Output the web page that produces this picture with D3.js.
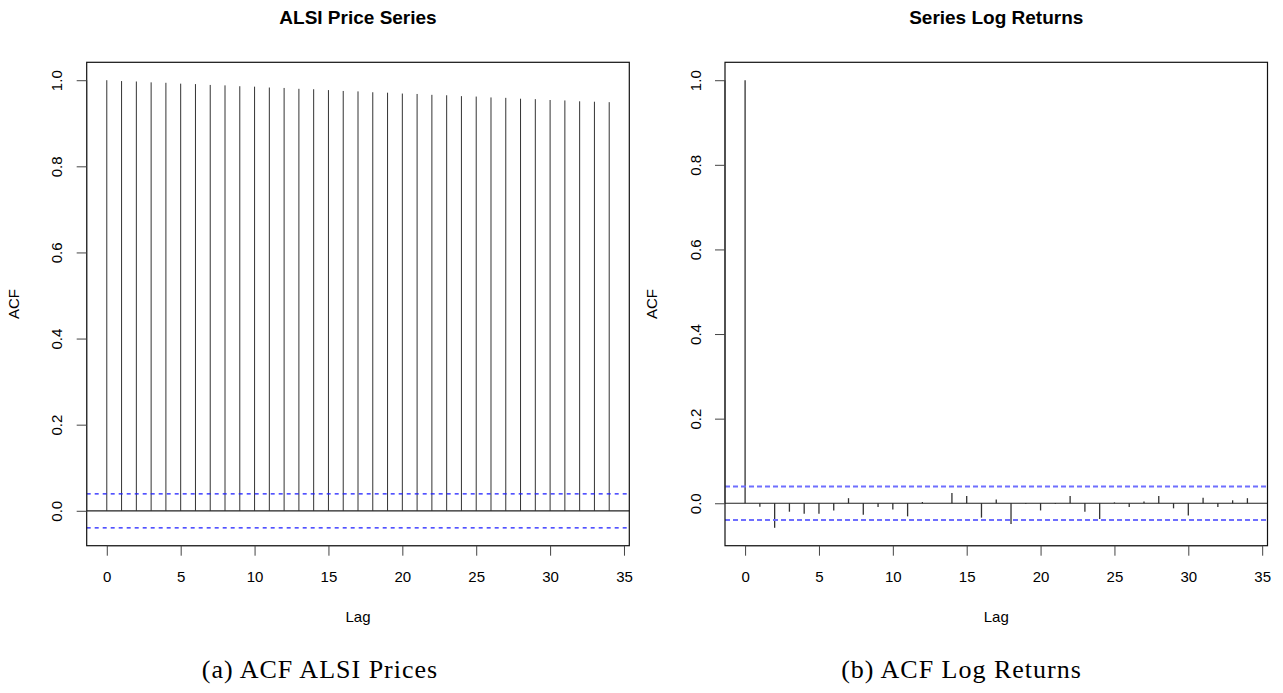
<!DOCTYPE html>
<html>
<head>
<meta charset="utf-8">
<script src="https://cdn.jsdelivr.net/npm/d3@7"></script>
<style>
    body { margin: 0; background: #fff; }
    svg text { font-family: "Liberation Sans", Arial, sans-serif; fill: #000; }
    .caption { font-family: "Liberation Serif", "Times New Roman", serif; }
</style>
</head>
<body>
<svg id="chart" width="1283" height="693"></svg>
<script>
// lags shown on both plots
let lags = d3.range(0, 35);

// ACF of the ALSI price levels, lag 0..34
let priceAcf = [1.000, 0.998, 0.997, 0.995, 0.994, 0.992, 0.991, 0.989, 0.988, 0.986,
    0.985, 0.983, 0.982, 0.980, 0.979, 0.977, 0.975, 0.974, 0.972, 0.971,
    0.969, 0.968, 0.966, 0.965, 0.963, 0.962, 0.960, 0.959, 0.957, 0.956,
    0.954, 0.953, 0.951, 0.950, 0.949];

// ACF of the log returns, lag 0..34
let returnAcf = [1.000, -0.008, -0.058, -0.020, -0.025, -0.025, -0.017, 0.012, -0.027, -0.009,
    -0.015, -0.031, 0.003, 0.000, 0.024, 0.017, -0.034, 0.009, -0.049, -0.002,
    -0.017, -0.002, 0.017, -0.020, -0.037, 0.002, -0.009, 0.004, 0.017, -0.012,
    -0.029, 0.013, -0.009, 0.007, 0.012];

// 95% white-noise band
let priceCi = 0.0395;
let returnCi = 0.0395;

let xTicks = [0, 5, 10, 15, 20, 25, 30, 35];
let yTicks = [0.0, 0.2, 0.4, 0.6, 0.8, 1.0];

let titles = ['ALSI Price Series', 'Series Log Returns'];
let captions = ['(a) ACF ALSI Prices', '(b) ACF Log Returns'];

let svg = d3.select('#chart');

// R style 4% padding on a range
let padRange = function(lo, hi) {
    let d = (hi - lo) * 0.04;
    return [lo - d, hi + d];
};

/**
 * Draws one acf panel in the style of R's plot.acf
 */
let drawAcf = function(params) {
    let p = Object.assign({
        left: 87, right: 629, top: 62.3, bottom: 545.7,
        ciColor: 'blue', ciWidth: 1, ciDash: '4,4', barColor: '#333', barWidth: 1
    }, params);

    let g = svg.append('g');
    let ylim = d3.extent(p.values.concat([-p.ci, p.ci]));

    let x = d3.scaleLinear()
        .domain(padRange(0, d3.max(p.lags)))
        .range([p.left, p.right]);
    let y = d3.scaleLinear()
        .domain(padRange(ylim[0], ylim[1]))
        .range([p.bottom, p.top]);

    // acf spikes
    g.append('g').selectAll('line')
        .data(p.values)
        .enter().append('line')
            .attr('x1', (d, i) => x(p.lags[i]))
            .attr('x2', (d, i) => x(p.lags[i]))
            .attr('y1', y(0))
            .attr('y2', d => y(d))
            .attr('stroke', p.barColor)
            .attr('stroke-width', p.barWidth);

    // zero line across the plot region
    g.append('line')
        .attr('x1', p.left).attr('x2', p.right)
        .attr('y1', y(0)).attr('y2', y(0))
        .attr('stroke', '#222').attr('stroke-width', 1.2);

    // confidence band
    g.append('g').selectAll('line')
        .data([p.ci, -p.ci])
        .enter().append('line')
            .attr('x1', p.left).attr('x2', p.right)
            .attr('y1', d => y(d)).attr('y2', d => y(d))
            .attr('stroke', p.ciColor)
            .attr('stroke-width', p.ciWidth)
            .attr('stroke-dasharray', p.ciDash);

    // box
    g.append('rect')
        .attr('x', p.left).attr('y', p.top)
        .attr('width', p.right - p.left).attr('height', p.bottom - p.top)
        .attr('fill', 'none').attr('stroke', '#111').attr('stroke-width', 1.2);

    // x axis, R puts it below the box with the spine only between the end ticks
    let xAxis = g.append('g')
        .attr('transform', 'translate(0,' + p.bottom + ')')
        .call(d3.axisBottom(x).tickValues(xTicks).tickSize(10).tickPadding(16).tickFormat(d3.format('d')));
    xAxis.select('.domain')
        .attr('d', 'M' + x(xTicks[0]) + ',0H' + x(xTicks[xTicks.length - 1]))
        .attr('stroke', '#333');
    xAxis.selectAll('.tick line').attr('stroke', '#444');
    xAxis.selectAll('text').style('font-size', '15px');

    let yAxis = g.append('g')
        .attr('transform', 'translate(' + p.left + ',0)')
        .call(d3.axisLeft(y).tickValues(yTicks).tickSize(10).tickFormat(d3.format('.1f')));
    yAxis.select('.domain')
        .attr('d', 'M0,' + y(yTicks[0]) + 'V' + y(yTicks[yTicks.length - 1]))
        .attr('stroke', '#333');
    yAxis.selectAll('.tick line').attr('stroke', '#444');
    yAxis.selectAll('text')
        .style('font-size', '15px')
        .attr('x', null)
        .attr('text-anchor', 'middle')
        .attr('transform', 'translate(-29.5,0) rotate(-90)')
        .attr('dy', '0.35em');

    let mid = (p.left + p.right) / 2;
    g.append('text')
        .attr('x', mid).attr('y', 24)
        .attr('text-anchor', 'middle')
        .style('font-size', '19px').style('font-weight', 'bold')
        .text(p.title);
    g.append('text')
        .attr('x', mid).attr('y', 622)
        .attr('text-anchor', 'middle')
        .style('font-size', '15px')
        .text('Lag');
    g.append('text')
        .attr('transform', 'translate(' + (p.left - 68) + ',' + ((p.top + p.bottom) / 2) + ') rotate(-90)')
        .attr('text-anchor', 'middle')
        .style('font-size', '15px')
        .text('ACF');
    g.append('text')
        .attr('class', 'caption')
        .attr('x', p.captionX).attr('y', 678)
        .attr('text-anchor', 'middle')
        .style('font-size', '26px')
        .style('letter-spacing', '1px')
        .text(p.caption);
};

drawAcf({
    lags: lags, values: priceAcf, ci: priceCi,
    left: 86.7, right: 629.3,
    title: titles[0], caption: captions[0], captionX: 320,
    ciColor: '#1a1aff', ciWidth: 1.2, ciDash: '4,4'
});

drawAcf({
    lags: lags, values: returnAcf, ci: returnCi,
    left: 725, right: 1267.5,
    title: titles[1], caption: captions[1], captionX: 961.5,
    ciColor: '#6f6fff', ciWidth: 2, ciDash: '5,3', barWidth: 1.3
});
</script>
</body>
</html>
